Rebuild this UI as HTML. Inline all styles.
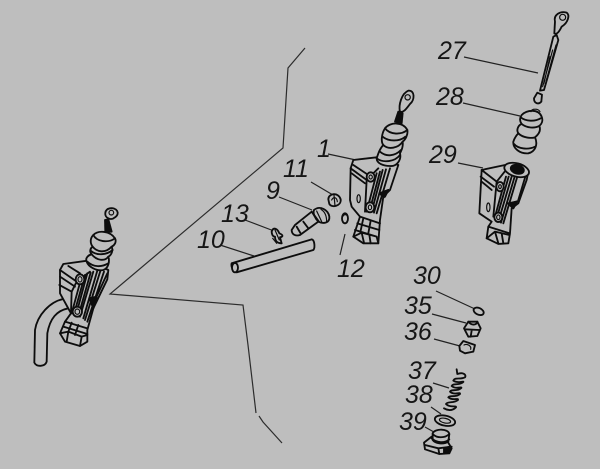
<!DOCTYPE html>
<html><head><meta charset="utf-8"><style>
html,body{margin:0;padding:0;background:#bebebe}
svg{display:block}
text{font-family:"Liberation Sans",sans-serif;font-style:italic;font-size:25px;fill:#161616}
.p path,.p ellipse,.p circle{fill:none;stroke:#0c0c0c;stroke-width:5.5;stroke-linejoin:round;stroke-linecap:round}
.p .f{fill:#bebebe}
.p .t{stroke-width:3.5}
.p .k{fill:#0c0c0c;stroke:#0c0c0c}
.l{stroke:#222;stroke-width:1.2;fill:none}
</style></head><body>
<svg width="600" height="469" viewBox="0 0 600 469" xmlns="http://www.w3.org/2000/svg">
<defs><filter id="b" x="-5%" y="-5%" width="110%" height="110%"><feGaussianBlur stdDeviation="0.35"/></filter></defs>
<rect width="600" height="469" fill="#bebebe"/>

<path d="M305 48L288 68L283 148L110 294L243 305L248 345L256 413M259 416L263 422L282 443" fill="none" stroke="#2c2c2c" stroke-width="1.2"/>

<g class="l">
<path d="M464 57L538 73M463 103L520 116M458 163L483 168"/>
<path d="M328 154L356 160M311 182L333 195M279 197L312 210M245 220L274 231M220 245L254 256M345 234L340 255M436 291L475 309M432 314L466 323M434 339L460 346M433 383L449 388M431 407L441 414M425 427L441 436"/>
</g>

<g filter="url(#b)">
<!-- left assembly with hose -->
<g class="p" transform="translate(0,190) scale(.3333)">
<path class="f" d="M205 355C170 362 150 385 142 430L140 515C135 530 110 532 103 518L105 420C112 375 150 335 190 327Z"/>
<path class="f" d="M180 240L190 222L262 212L325 240L322 268L280 355L262 420L262 455L240 468L195 455L180 430L195 395L213 370L180 310Z"/>
<path d="M180 240L230 275L270 245M180 260L225 290M178 285L215 305M205 228L240 250M230 275L215 305L213 370M245 260L215 370M255 255L222 372M262 250L228 375M272 248L235 378M280 245L240 380M292 242L250 385M302 240L255 390M312 245L262 395M322 250L285 330"/>
<path d="M270 330L290 325L280 355M195 395L262 415M190 410L262 432M215 398L205 425M235 405L225 435M180 430L205 425L245 440L262 435M205 425L200 455M245 440L240 468"/>
<path class="k" d="M268 325L290 320L278 350Z"/>
<ellipse cx="240" cy="268" rx="13" ry="15" class="f"/><ellipse cx="240" cy="268" rx="6" ry="8" class="t"/>
<ellipse cx="232" cy="365" rx="14" ry="15" class="f"/><ellipse cx="232" cy="365" rx="7" ry="8" class="t"/>
<path class="f" d="M260 215C255 205 265 195 275 193C268 185 270 175 278 170C270 160 270 145 280 135C295 120 330 122 345 145C350 155 345 165 335 170C340 180 335 195 325 200C330 215 325 235 310 240C290 245 265 230 260 215Z"/>
<path d="M278 170C290 185 315 192 335 170M275 193C290 212 315 215 325 200M280 135C290 155 325 160 345 145M262 215C280 232 305 232 325 220M272 182C290 198 320 195 338 180"/>
<path class="k" d="M316 125L315 90L325 88L335 125Z"/>
<path d="M325 85C312 80 312 58 330 55C350 52 362 70 345 82C338 88 330 88 325 85Z"/>
<circle cx="334" cy="68" r="7" class="t"/>
</g>

<!-- part 1 assembly -->
<g class="p" transform="translate(220,80) scale(.3333)">
<path class="f" d="M392 265L400 240L470 232L535 255L510 330L490 350L480 420L475 490L430 490L400 470L420 410L395 380L390 360Z"/>
<path d="M392 265L440 300L475 265M395 280L435 310M400 255L445 285M440 300L435 395M470 280L440 395M480 275L448 395M488 270L455 395M498 268L462 398M510 265L470 400"/>
<path d="M480 340L505 330L495 350M420 410L480 430M412 430L478 450M405 450L470 470M430 415L422 452M452 422L445 460M400 470L425 458L470 470L475 490M425 458L432 488M448 464L452 490"/>
<path class="k" d="M478 340L505 330L492 352Z"/>
<ellipse cx="452" cy="291" rx="12" ry="14" class="f"/><ellipse cx="452" cy="291" rx="5" ry="6" class="t"/>
<ellipse cx="450" cy="382" rx="13" ry="15" class="f"/><ellipse cx="450" cy="382" rx="5" ry="7" class="t"/>
<ellipse cx="416" cy="356" rx="5" ry="12" class="t"/>
<path class="f" d="M470 235C475 220 480 205 490 195C482 185 485 160 495 145C510 125 550 125 562 150C565 165 555 180 548 185C550 200 545 210 540 220C545 240 530 260 510 258C490 258 470 250 470 235Z"/>
<path d="M490 195C505 210 535 205 548 185M495 145C510 165 545 165 562 150M470 235C490 250 525 245 540 225M480 215C500 232 525 228 543 210M488 170C505 185 540 185 556 170"/>
<path class="k" d="M525 125L535 95L548 100L545 130Z"/>
<path d="M540 95C535 75 545 40 565 32C585 30 585 60 570 72C560 85 550 100 540 95Z"/>
<circle cx="563" cy="52" r="8" class="t"/>
<!-- 11 -->
<path class="f" d="M325 358C325 340 355 335 362 358C365 378 335 385 328 372Z"/><path class="t" d="M335 360C340 350 350 350 352 365M342 345L345 378"/>
<!-- 9 -->
<path class="f" d="M215 450L225 435L275 395L295 425L240 465C225 470 215 462 215 450Z"/>
<path d="M230 440L243 462M250 425L265 445"/>
<path class="f" d="M282 390C300 375 325 390 328 410C330 430 310 432 295 425C285 415 278 400 282 390Z"/>
<path class="t" d="M280 400L298 425M290 393L305 425M303 388C315 395 320 410 320 425"/>
<!-- 12 -->
<ellipse cx="375" cy="415" rx="9" ry="15" class="f"/><path class="t" d="M368 410C372 402 380 402 383 410"/>
<!-- 13 -->
<path class="f" d="M155 455C160 440 172 445 178 460C190 465 190 470 180 472L185 490C170 490 165 480 165 470C158 470 155 462 155 455Z"/>
<path class="t" d="M165 450L178 480M158 475L170 490"/>
<!-- 10 -->
<path class="f" d="M35 550L275 478C285 480 285 505 280 510L50 577C38 570 32 560 35 550Z"/>
<ellipse cx="45" cy="563" rx="9" ry="14" class="f"/>
</g>

<!-- 27, 28, 29 -->
<g class="p" transform="translate(420,0) scale(.3333)">
<path class="f" d="M400 110L410 105L415 120L372 270L360 272Z"/>
<path class="t" d="M398 150L368 260M408 135L378 245M390 170L372 250"/>
<path class="f" d="M342 295L352 278L366 284L364 305C355 315 342 310 342 295Z"/>
<path class="f" d="M405 65C400 45 420 32 440 38C450 45 445 68 425 80C418 95 410 105 403 100Z"/>
<circle cx="428" cy="52" r="9" class="t"/>
<!-- 28 -->
<path class="f" d="M305 345C320 330 355 325 365 350C370 362 365 372 358 378C365 395 350 408 345 412C355 435 345 455 325 460C300 462 278 445 280 425C285 410 290 405 295 400C288 390 295 375 305 372C298 362 300 352 305 345Z"/>
<path d="M305 372C320 385 345 385 358 378M295 400C310 415 335 415 345 412M282 432C295 447 325 450 345 440M302 352C318 365 345 365 362 355"/>
<path class="t" d="M333 335C335 325 355 325 360 335"/>
<!-- 29 -->
<path class="f" d="M185 510L255 495L325 515L320 540L295 610L275 625L270 700L265 730L235 732L200 715L205 680L215 665L178 640Z"/>
<path d="M185 510L230 545L258 510M182 530L222 560M185 545L215 570M230 545L220 650M258 530L225 650M266 530L230 655M275 530L235 665M284 530L243 668M292 530L250 670M316 530L295 600"/>
<path d="M265 610L290 605L280 625M205 680L268 700M200 715L225 695L268 705M225 695L235 730M245 700L250 730"/>
<path class="k" d="M265 612L292 604L280 625Z"/>
<ellipse cx="240" cy="560" rx="11" ry="14" class="f"/><ellipse cx="240" cy="560" rx="4" ry="6" class="t"/>
<ellipse cx="235" cy="652" rx="12" ry="14" class="f"/><ellipse cx="235" cy="652" rx="5" ry="7" class="t"/>
<ellipse cx="205" cy="622" rx="5" ry="13" class="t"/>
<ellipse cx="290" cy="510" rx="38" ry="20" class="f" transform="rotate(15 290 510)"/>
<ellipse cx="292" cy="508" rx="20" ry="13" class="k" transform="rotate(15 292 508)"/>
</g>

<!-- 30-39 -->
<g class="p" transform="translate(400,260) scale(.3333)">
<ellipse cx="236" cy="154" rx="16" ry="10" class="f" transform="rotate(25 236 154)"/>
<!-- 35 -->
<path class="f" d="M192 205L205 185L232 185L242 205L232 228L205 230Z"/>
<path d="M195 208L238 210M205 185C215 198 230 195 232 185M215 212L212 230"/>
<!-- 36 -->
<path class="f" d="M178 258L190 243L225 255L220 275L195 280L180 272Z"/>
<path class="t" d="M192 255C202 250 215 258 212 268"/>
<!-- 37 spring -->
<path d="M170 328L172 342C190 335 200 345 195 352C180 360 165 350 160 362C175 372 192 362 190 366C178 378 160 368 155 378C168 390 186 378 184 384C172 396 155 386 150 395C162 408 182 394 180 402C168 414 150 404 145 412C158 424 176 412 174 420C160 432 145 422 138 432C150 445 170 435 168 442C155 455 140 450 132 445"/>
<!-- 38 washer -->
<ellipse cx="135" cy="482" rx="31" ry="15" transform="rotate(12 135 482)" class="f"/>
<ellipse cx="135" cy="482" rx="17" ry="7" transform="rotate(12 135 482)" class="t"/>
<!-- 39 -->
<path class="f" d="M72 548L95 530L140 540L155 565L148 580L118 582L75 568Z"/>
<path class="f" d="M98 520C105 505 145 505 148 522L145 545C130 555 105 550 98 540Z"/>
<path d="M98 522C110 535 135 535 148 522M75 555L115 565L155 560M115 565L118 582M95 535C110 550 135 550 148 538"/>
<path class="k" d="M132 565L150 560L148 578L132 580Z"/>
</g>
</g>

<text x="438" y="59">27</text>
<text x="436" y="105">28</text>
<text x="429" y="163">29</text>
<text x="317" y="157">1</text>
<text x="283" y="177">11</text>
<text x="266" y="199">9</text>
<text x="221" y="222">13</text>
<text x="197" y="248">10</text>
<text x="337" y="277">12</text>
<text x="413" y="284">30</text>
<text x="404" y="314">35</text>
<text x="404" y="340">36</text>
<text x="408" y="379">37</text>
<text x="405" y="403">38</text>
<text x="399" y="430">39</text>
</svg>
</body></html>
